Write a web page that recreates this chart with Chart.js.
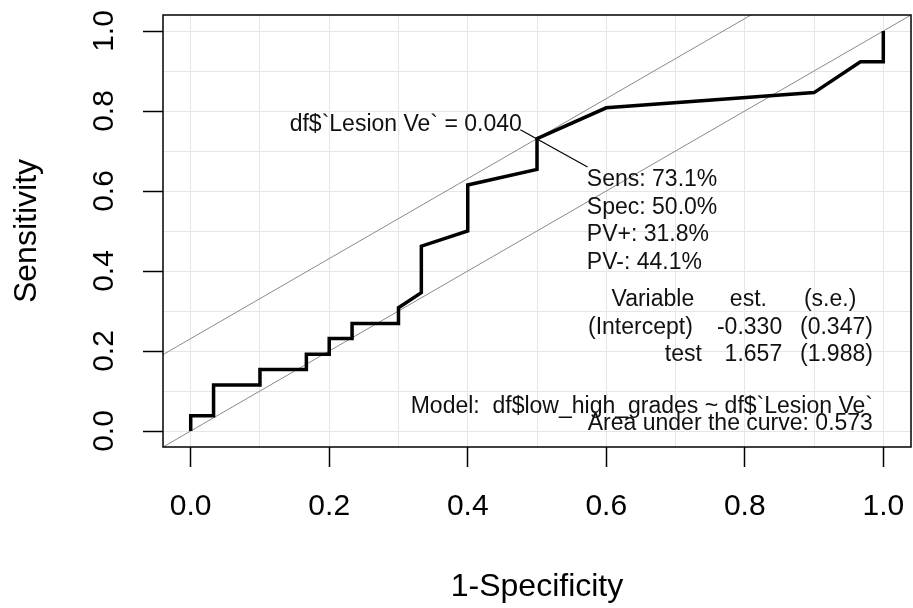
<!DOCTYPE html>
<html>
<head>
<meta charset="utf-8">
<script src="https://cdn.jsdelivr.net/npm/chart.js@4.4.1/dist/chart.umd.min.js"></script>
<style>
  html, body { margin: 0; padding: 0; background: #fff; }
  #wrap { width: 913px; height: 608px; }
</style>
</head>
<body>
<div id="wrap"><canvas id="roc"></canvas></div>
<script>
// ROC curve: 1-specificity and sensitivity
const fpr = [0, 0, 0.033, 0.033, 0.1, 0.1, 0.167, 0.167, 0.2, 0.2, 0.233, 0.233, 0.3, 0.3,
  0.333, 0.333, 0.4, 0.4, 0.5, 0.5, 0.6, 0.9, 0.967, 1, 1];
const tpr = [0, 0.038, 0.038, 0.115, 0.115, 0.154, 0.154, 0.192, 0.192, 0.231, 0.231, 0.269, 0.269, 0.308,
  0.346, 0.462, 0.5, 0.615, 0.654, 0.731, 0.808, 0.846, 0.923, 0.923, 1];

const gridTicks = [0, 0.1, 0.2, 0.3, 0.4, 0.5, 0.6, 0.7, 0.8, 0.9, 1.0];
const labelTicks = [0, 0.2, 0.4, 0.6, 0.8, 1.0];

// optimal cut point
const optFpr = 0.5;
const optSens = 0.731;

const cutoffLabel = "df$`Lesion Ve` = 0.040";
const statLines = ["Sens: 73.1%", "Spec: 50.0%", "PV+: 31.8%", "PV-: 44.1%"];
const tableHeader = ["Variable", "est.", "(s.e.)"];
const tableRows = [
  ["(Intercept)", "-0.330", "(0.347)"],
  ["test", "1.657", "(1.988)"]
];
const modelText = "Model:  df$low_high_grades ~ df$`Lesion Ve`";
const aucText = "Area under the curve: 0.573";

const AX_MIN = -0.04, AX_MAX = 1.04;
const FONT = '"Liberation Sans", Arial, sans-serif';

const isLabelTick = (v) => labelTicks.some(t => Math.abs(t - v) < 1e-6);

const rocPoints = fpr.map((x, i) => ({ x: x, y: tpr[i] }));
const diagPoints = [{ x: AX_MIN, y: AX_MIN }, { x: AX_MAX, y: AX_MAX }];
const shift = optSens - optFpr;
const upperPoints = [{ x: AX_MIN, y: AX_MIN + shift }, { x: AX_MAX, y: AX_MAX + shift }];

const rocText = {
  id: "rocText",
  afterDatasetsDraw(chart) {
    const ctx = chart.ctx;
    const xs = chart.scales.x, ys = chart.scales.y;
    const px = (v) => xs.getPixelForValue(v);
    const py = (v) => ys.getPixelForValue(v);
    ctx.save();
    ctx.fillStyle = "#111";
    ctx.textBaseline = "middle";
    ctx.font = "23px " + FONT;

    // leader line through the cut point
    ctx.strokeStyle = "#000";
    ctx.lineWidth = 1.2;
    ctx.beginPath();
    ctx.moveTo(px(0.476), py(0.753));
    ctx.lineTo(px(0.573), py(0.66));
    ctx.stroke();

    ctx.textAlign = "right";
    ctx.fillText(cutoffLabel, px(0.478), py(0.765));

    ctx.textAlign = "left";
    const statY = [0.6275, 0.559, 0.49, 0.421];
    statLines.forEach((s, i) => ctx.fillText(s, px(0.572), py(statY[i])));

    // coefficient table, right aligned columns
    ctx.textAlign = "right";
    const colRight = [[0.727, 0.832, 0.961], [0.725, 0.854, 0.985], [0.738, 0.854, 0.985]];
    const rowY = [0.3275, 0.259, 0.19];
    [tableHeader].concat(tableRows).forEach((row, r) => {
      row.forEach((cell, c) => ctx.fillText(cell, px(colRight[r][c]), py(rowY[r])));
    });

    ctx.fillText(modelText, px(0.985), py(0.061));
    ctx.fillText(aucText, px(0.985), py(0.0175));

    // y tick labels, rotated like R's default
    ctx.fillStyle = "#000";
    ctx.font = "30px " + FONT;
    ctx.textAlign = "center";
    labelTicks.forEach(v => {
      ctx.save();
      ctx.translate(105, py(v));
      ctx.rotate(-Math.PI / 2);
      ctx.fillText(v.toFixed(1), 0, 0);
      ctx.restore();
    });
    ctx.restore();
  },
  afterDraw(chart) {
    const a = chart.chartArea;
    const ctx = chart.ctx;
    ctx.save();
    ctx.strokeStyle = "#000";
    ctx.lineWidth = 1.5;
    ctx.strokeRect(a.left, a.top, a.right - a.left, a.bottom - a.top);
    ctx.restore();
  }
};

const gridOpts = {
  color: "#e6e6e6",
  lineWidth: 1,
  drawTicks: true,
  tickLength: 20,
  tickWidth: 1.5,
  tickColor: (c) => (c.tick && isLabelTick(c.tick.value) ? "#000" : "rgba(0,0,0,0)")
};

new Chart(document.getElementById("roc"), {
  type: "scatter",
  data: {
    datasets: [
      { label: "ROC", data: rocPoints, showLine: true, borderColor: "#000", borderWidth: 3.5,
        pointRadius: 0, tension: 0, borderJoinStyle: "miter" },
      { label: "upper", data: upperPoints, showLine: true, borderColor: "#8a8a8a", borderWidth: 1,
        pointRadius: 0 },
      { label: "diagonal", data: diagPoints, showLine: true, borderColor: "#8a8a8a", borderWidth: 1,
        pointRadius: 0 }
    ]
  },
  options: {
    responsive: true,
    maintainAspectRatio: false,
    animation: false,
    events: [],
    layout: { padding: { top: 15, right: 2, left: 0, bottom: 0 } },
    plugins: {
      legend: { display: false },
      tooltip: { enabled: false }
    },
    scales: {
      x: {
        type: "linear",
        min: AX_MIN,
        max: AX_MAX,
        afterBuildTicks: (s) => { s.ticks = gridTicks.map(v => ({ value: v })); },
        afterFit: (s) => {
          s.height = 161;
          s.paddingLeft = 0;
          s.paddingRight = 0;
        },
        grid: gridOpts,
        border: { display: false },
        ticks: {
          autoSkip: false,
          maxRotation: 0,
          padding: 22,
          color: "#000",
          font: { family: FONT, size: 30 },
          callback: (v) => (isLabelTick(v) ? v.toFixed(1) : "")
        },
        title: {
          display: true,
          text: "1-Specificity",
          color: "#000",
          font: { family: FONT, size: 32, lineHeight: 1 },
          padding: { top: 0, bottom: 5 }
        }
      },
      y: {
        type: "linear",
        min: AX_MIN,
        max: AX_MAX,
        afterBuildTicks: (s) => { s.ticks = gridTicks.map(v => ({ value: v })); },
        afterFit: (s) => {
          s.width = 163;
          s.paddingTop = 0;
          s.paddingBottom = 0;
        },
        grid: gridOpts,
        border: { display: false },
        ticks: { display: false },
        title: {
          display: true,
          text: "Sensitivity",
          color: "#000",
          font: { family: FONT, size: 32, lineHeight: 1 },
          padding: { top: 11, bottom: 0 }
        }
      }
    }
  },
  plugins: [rocText]
});
</script>
</body>
</html>
